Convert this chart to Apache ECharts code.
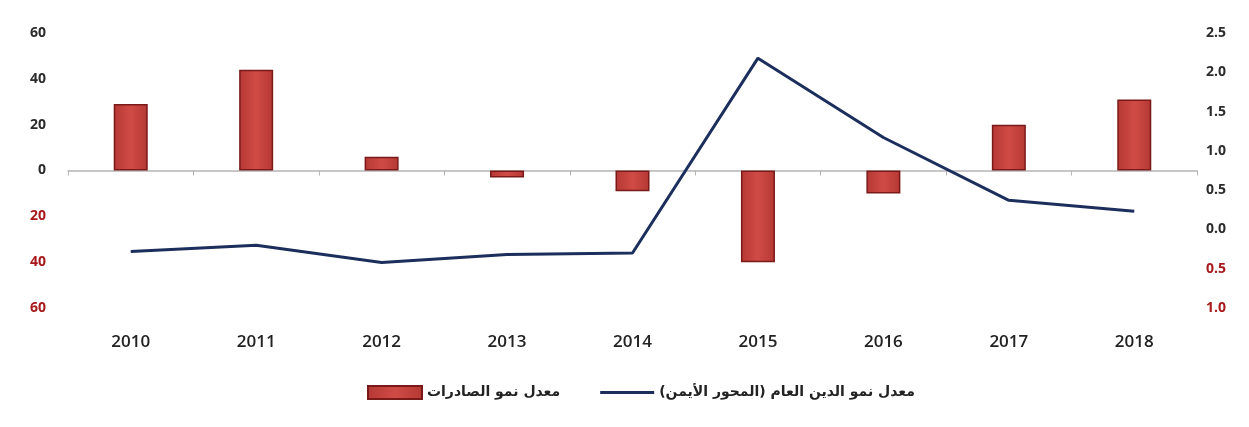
<!DOCTYPE html>
<html>
<head>
<meta charset="utf-8">
<script src="https://cdn.jsdelivr.net/npm/echarts@6/dist/echarts.min.js"></script>
<style>
  html, body { margin: 0; padding: 0; background: #ffffff; }
  #chart { width: 1249px; height: 427px; }
</style>
</head>
<body>
<div id="chart"></div>
<script>
// Years on the category axis
const years = ['2010', '2011', '2012', '2013', '2014', '2015', '2016', '2017', '2018'];
// Export growth rate (%), left axis
const exportGrowth = [29, 44, 6, -3, -9, -40, -10, 20, 31];
// Public debt growth rate, right axis
const debtGrowth = [-0.28, -0.2, -0.42, -0.32, -0.3, 2.18, 1.17, 0.37, 0.23];
// Series names shown in the legend
const exportName = 'معدل نمو الصادرات';
const debtName = 'معدل نمو الدين العام (المحور الأيمن)';

const negColor = '#a8191c';
const posColor = '#2b2b2b';
const lineColor = '#1c2f5c';
const numFont = '"Open Sans", "DejaVu Sans", sans-serif';

const chart = echarts.init(document.getElementById('chart'));
chart.setOption({
  animation: false,
  backgroundColor: '#ffffff',
  grid: { left: 68, right: 52, top: 33, bottom: 119 },
  legend: {
    bottom: 22,
    left: 362,
    itemGap: 40,
    itemWidth: 54,
    itemHeight: 13,
    textStyle: { fontFamily: '"DejaVu Sans", sans-serif', fontSize: 14, fontWeight: 'bold', color: '#222' },
    data: [
      { name: exportName, icon: 'rect' },
      { name: debtName, icon: 'path://M0,0 L54,0 L54,3 L0,3 Z', itemStyle: { color: lineColor } }
    ]
  },
  xAxis: [
    {
      type: 'category',
      data: years,
      position: 'bottom',
      axisLine: { show: false, onZero: false },
      axisTick: { show: false },
      axisLabel: { margin: 26, fontFamily: numFont, fontSize: 17, fontWeight: 600, color: '#222' }
    },
    {
      type: 'category',
      data: years,
      position: 'bottom',
      axisLine: { show: true, onZero: true, onZeroAxisIndex: 0, lineStyle: { color: '#b5b5b5', width: 1.5 } },
      axisTick: { show: true, length: 5, lineStyle: { color: '#b5b5b5' } },
      axisLabel: { show: false }
    }
  ],
  yAxis: [
    {
      type: 'value',
      min: -60, max: 60, interval: 20,
      splitLine: { show: false },
      axisLine: { show: false },
      axisTick: { show: false },
      axisLabel: {
        margin: 22,
        fontFamily: numFont, fontSize: 14, fontWeight: 'bold',
        formatter: v => String(Math.abs(v)),
        color: v => (v < 0 ? negColor : posColor)
      }
    },
    {
      type: 'value',
      min: -1, max: 2.5, interval: 0.5,
      splitLine: { show: false },
      axisLine: { show: false },
      axisTick: { show: false },
      axisLabel: {
        margin: 9,
        fontFamily: numFont, fontSize: 14, fontWeight: 'bold',
        formatter: v => Math.abs(v).toFixed(1),
        color: v => (v < 0 ? negColor : posColor)
      }
    }
  ],
  series: [
    {
      name: exportName,
      type: 'bar',
      xAxisIndex: 0,
      yAxisIndex: 0,
      data: exportGrowth,
      barWidth: 34,
      itemStyle: {
        color: new echarts.graphic.LinearGradient(0, 0, 1, 0, [
          { offset: 0, color: '#b53834' },
          { offset: 0.5, color: '#d04b46' },
          { offset: 1, color: '#b53834' }
        ]),
        borderColor: '#7a1a18',
        borderWidth: 1.5
      }
    },
    {
      name: debtName,
      type: 'line',
      xAxisIndex: 0,
      yAxisIndex: 1,
      data: debtGrowth,
      symbol: 'none',
      lineStyle: { color: lineColor, width: 3 },
      itemStyle: { color: lineColor }
    }
  ]
});
</script>
</body>
</html>
